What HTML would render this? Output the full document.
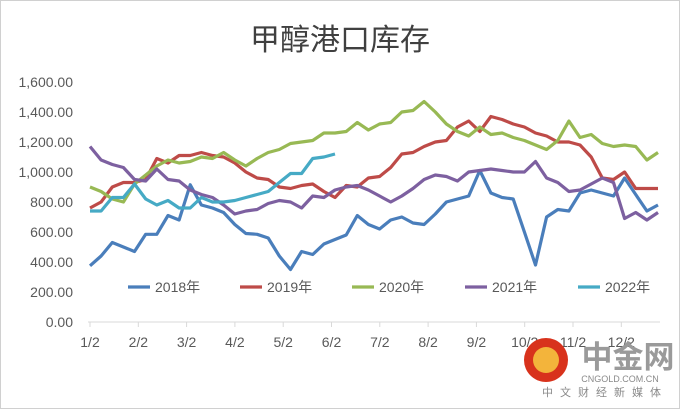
<!DOCTYPE html>
<html><head><meta charset="utf-8"><style>
html,body{margin:0;padding:0;background:#fff;}
svg{display:block;font-family:"Liberation Sans","Noto Sans CJK SC",sans-serif;}
</style></head><body>
<svg id="chart" width="680" height="409" viewBox="0 0 680 409">
<rect x="0.5" y="0.5" width="679" height="408" fill="#fff" stroke="#d0d0d0"/>
<text x="340" y="50" text-anchor="middle" font-size="30" fill="#404040">甲醇港口库存</text>
<g id="yaxis"></g>
<g id="xaxis"></g>
<g id="series"></g>
<g id="legend"></g>
<g>
<circle cx="546" cy="360" r="22" fill="#d8321c"/>
<circle cx="546" cy="360" r="13" fill="#f3b43b"/>
<text x="628" y="368" text-anchor="middle" font-size="31" font-weight="bold" fill="#9a9a9a">中金网</text>
<text x="620" y="382" text-anchor="middle" font-size="9" fill="#8a8a8a">CNGOLD.COM.CN</text>
<text x="605" y="396" text-anchor="middle" font-size="11" letter-spacing="7" fill="#8a8a8a">中文财经新媒体</text>
</g>
</svg>
<script>
const yTicks=[0,200,400,600,800,1000,1200,1400,1600];
const xLabels=["1/2","2/2","3/2","4/2","5/2","6/2","7/2","8/2","9/2","10/2","11/2","12/2"];
const seriesNames=["2018年","2019年","2020年","2021年","2022年"];
const s2018=[375,440,530,500,470,585,585,710,680,915,780,760,730,650,590,585,560,440,350,470,450,520,550,580,710,650,620,680,700,660,650,720,800,820,840,1010,860,830,820,600,380,700,750,740,860,880,860,840,960,850,740,780];
const s2019=[760,800,900,930,930,950,1090,1060,1110,1110,1130,1110,1100,1060,1000,960,950,900,890,910,920,870,830,910,900,960,970,1030,1120,1130,1170,1200,1210,1300,1340,1270,1370,1350,1320,1300,1260,1240,1200,1200,1180,1100,960,950,1000,890,890,890];
const s2020=[900,870,820,800,920,980,1040,1080,1060,1070,1100,1090,1130,1080,1040,1090,1130,1150,1190,1200,1210,1260,1260,1270,1330,1280,1320,1330,1400,1410,1470,1400,1320,1270,1240,1300,1250,1260,1230,1210,1180,1150,1210,1340,1230,1250,1190,1170,1180,1170,1080,1130];
const s2021=[1170,1080,1050,1030,950,940,1020,950,940,880,850,830,780,720,740,750,790,810,800,760,840,830,880,900,910,880,840,800,840,890,950,980,970,940,1000,1010,1020,1010,1000,1000,1070,960,930,870,880,920,960,930,690,730,680,730];
const s2022=[740,740,830,830,920,820,780,810,760,760,830,800,800,810,830,850,870,930,990,990,1090,1100,1120];
const allSeries=[s2018,s2019,s2020,s2021,s2022];
const colors=["#4a7ebb","#be4b48","#98b954","#7d60a0","#46aac5"];
const NS="http://www.w3.org/2000/svg";
const X0=90,X1=658,Y0=322,Y1=82,NPTS=52;
function xPos(i){return X0+i*(X1-X0)/(NPTS-1);}
function yPos(v){return Y0-(v/1600)*(Y0-Y1);}
function mk(tag,attrs,parent){const e=document.createElementNS(NS,tag);for(const k in attrs)e.setAttribute(k,attrs[k]);parent.appendChild(e);return e;}
const ya=document.getElementById('yaxis');
yTicks.forEach(v=>{
 const t=mk('text',{x:73,y:yPos(v)+5,'text-anchor':'end','font-size':14,fill:'#595959'},ya);
 t.textContent=v.toFixed(2).replace(/\B(?=(\d{3})+(?!\d))/g,",");
 
 
});
const xa=document.getElementById('xaxis');
const axl=mk('line',{x1:X0-2,y1:Y0,x2:X1+2,y2:Y0,stroke:'#d9d9d9','stroke-width':1},xa);


xLabels.forEach((l,i)=>{
 const x=X0+i*48.3;
 const tk=mk('line',{x1:x,y1:Y0,x2:x,y2:Y0+5,stroke:'#d9d9d9'},xa);
 
 
 const t=mk('text',{x:x,y:347,'text-anchor':'middle','font-size':14,fill:'#595959'},xa);
 t.textContent=l;
 
 
});
const sg=document.getElementById('series');
allSeries.forEach((s,k)=>{
 const d=s.map((v,i)=>(i?'L':'M')+xPos(i).toFixed(1)+','+yPos(v).toFixed(1)).join(' ');
 const p=mk('path',{d:d,fill:'none',stroke:colors[k],'stroke-width':3.2,'stroke-linejoin':'round'},sg);
 
 
});
const lg=document.getElementById('legend');
const lx=[128,240,352,465,578];
seriesNames.forEach((n,k)=>{
 const l=mk('line',{x1:lx[k],y1:287,x2:lx[k]+22,y2:287,stroke:colors[k],'stroke-width':3.2},lg);
 
 
 const t=mk('text',{x:lx[k]+27,y:292,'font-size':14,fill:'#595959'},lg);
 t.textContent=n;
 
 
});
</script>
</body></html>
